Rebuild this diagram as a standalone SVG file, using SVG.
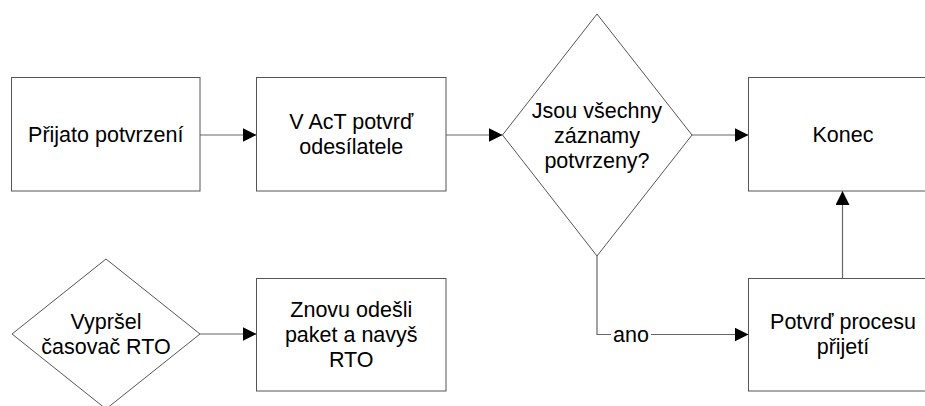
<svg xmlns="http://www.w3.org/2000/svg" width="925" height="406" viewBox="0 0 925 406">
<defs>
<marker id="arr" markerUnits="userSpaceOnUse" markerWidth="14" markerHeight="14" refX="14" refY="7" orient="auto">
<path d="M0,0 L14,7 L0,14 z" fill="#000"/>
</marker>
<style>
.shape{fill:#fff;stroke:#555;stroke-width:1}
.t{font-family:"Liberation Sans",Arial,sans-serif;font-size:21.5px;fill:#000;text-anchor:middle}
.c{fill:none;stroke:#666;stroke-width:1.2;marker-end:url(#arr)}
</style>
</defs>
<rect width="925" height="406" fill="#fff"/>
<g id="connectors">
<path class="c" d="M200,135 H256.5"/>
<path class="c" d="M446,135 H502.5"/>
<path class="c" d="M692,135 H748.5"/>
<path class="c" d="M200,334 H256.5"/>
<path class="c" d="M597,256 V334.5 H748.5"/>
<path class="c" d="M842.5,278.5 V191"/>
<rect x="611" y="322" width="40" height="24" fill="#fff"/>
<text class="t" x="631" y="341.5">ano</text>
</g>
<g id="prijato">
<rect class="shape" x="11.5" y="77.5" width="188.5" height="113.5"/>
<text class="t" x="105.75" y="142">Přijato potvrzení</text>
</g>
<g id="vact">
<rect class="shape" x="256.5" y="77.5" width="189.5" height="113.5"/>
<text class="t" x="351.25" y="129">V AcT potvrď</text>
<text class="t" x="351.25" y="154">odesílatele</text>
</g>
<g id="jsou">
<polygon class="shape" points="597,14 692,135 597,256 502.5,135"/>
<text class="t" x="597" y="118">Jsou všechny</text>
<text class="t" x="597" y="143">záznamy</text>
<text class="t" x="597" y="168">potvrzeny?</text>
</g>
<g id="konec">
<rect class="shape" x="748.5" y="77.5" width="189" height="113.5"/>
<text class="t" x="843" y="142">Konec</text>
</g>
<g id="vyprsel">
<polygon class="shape" points="106,259 200,334 106,409 12,334"/>
<text class="t" x="106" y="329">Vypršel</text>
<text class="t" x="106" y="354">časovač RTO</text>
</g>
<g id="znovu">
<rect class="shape" x="256.5" y="278.5" width="189.5" height="112.5"/>
<text class="t" x="351.25" y="317">Znovu odešli</text>
<text class="t" x="351.25" y="342">paket a navyš</text>
<text class="t" x="351.25" y="367">RTO</text>
</g>
<g id="potvrd">
<rect class="shape" x="748.5" y="278.5" width="189" height="112.5"/>
<text class="t" x="843" y="329">Potvrď procesu</text>
<text class="t" x="843" y="354">přijetí</text>
</g>
</svg>
